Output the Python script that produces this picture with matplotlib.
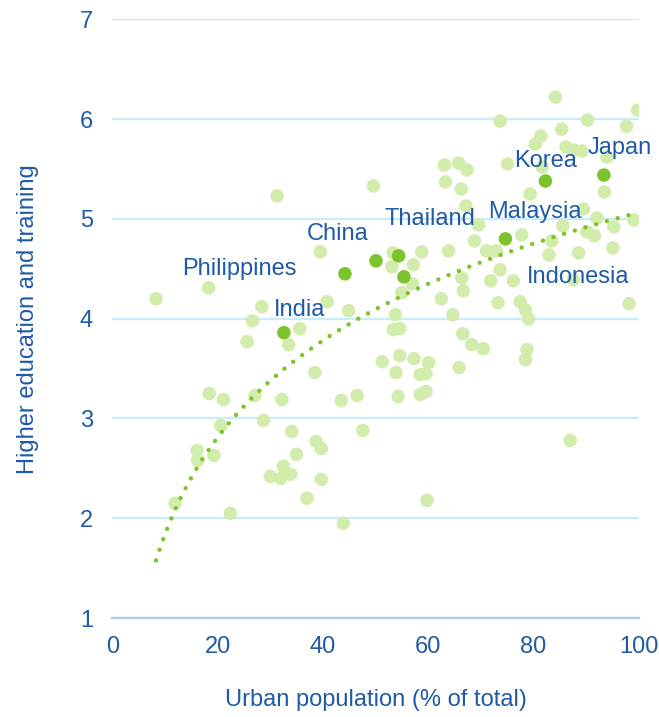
import matplotlib
matplotlib.use("Agg")
import matplotlib.pyplot as plt
import numpy as np

plt.rcParams['font.family'] = ['Liberation Sans', 'DejaVu Sans']

# all countries: urban population (% of total) vs higher education score
urban = [8.3, 18.3, 28.4, 26.6, 25.6, 33.5, 35.6, 31.3, 39.5, 40.8, 44.9, 49.6,
         38.5, 51.3, 18.4, 21.1, 27.1, 32.2, 43.5, 46.5, 28.7, 20.6, 34.1, 47.6,
         38.7, 39.7, 16.1, 19.3, 16.2, 35.0, 32.5, 30.0, 32.0, 33.9, 39.7, 37.0,
         11.9, 22.4, 43.9, 84.2, 99.8, 73.7, 90.3, 97.7, 85.4, 81.4, 80.4, 86.2,
         87.8, 89.2, 94.0, 63.1, 65.8, 67.4, 75.1, 81.7, 93.5, 63.3, 66.3, 79.4,
         67.2, 89.5, 92.1, 99.1, 69.6, 85.6, 95.3, 90.2, 91.6, 77.8, 68.8, 83.5,
         71.1, 73.0, 63.9, 58.8, 83.0, 95.1, 88.6, 53.4, 57.2, 53.1, 73.7, 66.4,
         76.2, 71.9, 87.6, 57.0, 55.0, 66.7, 62.5, 73.3, 77.5, 98.2, 78.5, 79.1,
         53.8, 64.7, 53.4, 54.6, 66.6, 68.3, 70.5, 78.8, 78.5, 54.6, 57.3, 60.1,
         65.9, 53.9, 58.5, 59.6, 54.3, 58.5, 59.6, 87.0, 59.8]
education = [4.20, 4.31, 4.12, 3.98, 3.77, 3.74, 3.90, 5.23, 4.67, 4.17, 4.08, 5.33,
             3.46, 3.57, 3.25, 3.19, 3.23, 3.19, 3.18, 3.23, 2.98, 2.93, 2.87, 2.88,
             2.77, 2.70, 2.68, 2.63, 2.58, 2.64, 2.52, 2.42, 2.40, 2.44, 2.39, 2.20,
             2.15, 2.05, 1.95, 6.22, 6.09, 5.98, 5.99, 5.93, 5.90, 5.83, 5.75, 5.72,
             5.69, 5.68, 5.62, 5.54, 5.56, 5.49, 5.55, 5.52, 5.27, 5.37, 5.30, 5.25,
             5.13, 5.10, 5.01, 4.99, 4.94, 4.93, 4.92, 4.87, 4.83, 4.84, 4.78, 4.78,
             4.68, 4.68, 4.68, 4.67, 4.64, 4.71, 4.66, 4.66, 4.54, 4.52, 4.49, 4.41,
             4.38, 4.38, 4.39, 4.35, 4.26, 4.28, 4.20, 4.16, 4.17, 4.15, 4.09, 4.00,
             4.04, 4.04, 3.89, 3.90, 3.85, 3.74, 3.70, 3.69, 3.59, 3.63, 3.60, 3.56,
             3.51, 3.46, 3.44, 3.45, 3.22, 3.24, 3.27, 2.78, 2.18]

# highlighted Asian economies
asia_names = ['India', 'Philippines', 'China', 'Thailand', 'Indonesia',
              'Malaysia', 'Korea', 'Japan']
asia_urban = [32.6, 44.2, 50.1, 54.4, 55.4, 74.7, 82.3, 93.4]
asia_education = [3.86, 4.45, 4.58, 4.63, 4.42, 4.80, 5.38, 5.44]

# log trend line: y = a + b*ln(x)
trend_a = -1.387
trend_b = 1.401

# where each name is written
label_pos = {
    'India': (35.6, 4.09),
    'Philippines': (24.2, 4.50),
    'China': (42.9, 4.85),
    'Thailand': (60.4, 5.00),
    'Indonesia': (88.5, 4.42),
    'Malaysia': (80.2, 5.07),
    'Korea': (82.3, 5.58),
    'Japan': (96.5, 5.71),
}

light_green = '#d2ecac'
dark_green = '#7dc42c'
blue_text = '#1f5aa6'

fig = plt.figure(figsize=(6.59, 7.17), dpi=100)
ax = fig.add_axes([0.1705, 0.138, 0.7985, 0.835])

ax.scatter(urban, education, s=95, color=light_green, edgecolors='none', zorder=2)
ax.scatter(asia_urban, asia_education, s=95, color=dark_green, edgecolors='none', zorder=3)

all_x = np.array(urban + asia_urban)
xs = np.linspace(all_x.min(), all_x.max(), 300)
ax.plot(xs, trend_a + trend_b * np.log(xs), color=dark_green, lw=3.2,
        linestyle=(0, (0.01, 2.5)), dash_capstyle='round', zorder=4)

for name in asia_names:
    lx, ly = label_pos[name]
    ax.text(lx, ly, name, color=blue_text, fontsize=17, ha='center', va='center', zorder=5)

ax.set_xlim(0, 100)
ax.set_ylim(1, 7)
ax.set_xticks([0, 20, 40, 60, 80, 100])
ax.set_yticks([1, 2, 3, 4, 5, 6, 7])
ax.grid(axis='y', color='#c8ecfb', lw=1.6, zorder=0)
ax.set_axisbelow(True)
for side in ['top', 'right', 'left']:
    ax.spines[side].set_visible(False)
ax.spines['bottom'].set_color('#a6ccee')
ax.spines['bottom'].set_linewidth(1.6)
ax.tick_params(axis='both', length=0, labelsize=17, labelcolor=blue_text)
ax.tick_params(axis='x', pad=13)
ax.tick_params(axis='y', pad=14)

ax.set_xlabel('Urban population (% of total)', fontsize=17, color=blue_text, labelpad=22)
ax.set_ylabel('Higher education and training', fontsize=17, color=blue_text, labelpad=29)

fig.savefig('out.png', dpi=100)
